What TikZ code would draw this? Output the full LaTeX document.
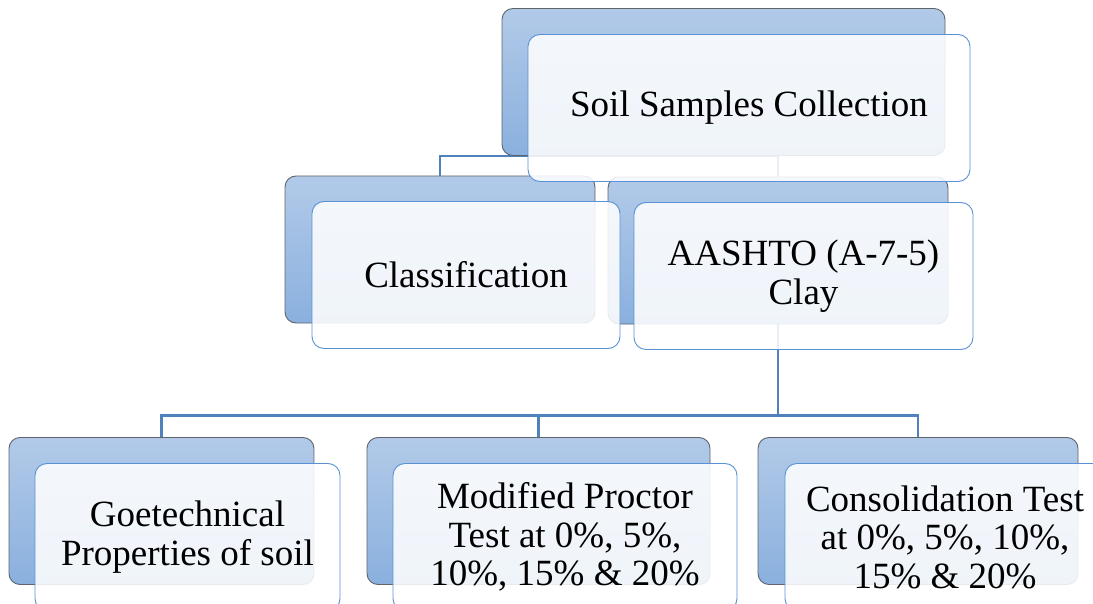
\documentclass[tikz,border=0pt]{standalone}
\usepackage{fontspec}
\setmainfont{Liberation Serif}
\usetikzlibrary{calc,backgrounds}
\definecolor{lnk}{RGB}{79,129,189}
\definecolor{bktop}{RGB}{178,202,232}
\definecolor{bkbot}{RGB}{138,176,222}
\definecolor{bkedge}{RGB}{95,100,108}
\definecolor{fredge}{RGB}{88,146,212}
\tikzset{
  back/.style={rectangle,rounded corners=11pt,draw=bkedge,line width=0.9pt,
    top color=bktop,bottom color=bkbot,minimum height=147pt,inner sep=0pt},
  card/.style={rectangle,rounded corners=12pt,draw=fredge,line width=0.9pt,
    fill=white,fill opacity=0.87,text opacity=1,minimum height=147pt,inner sep=0pt,
    align=center,font=\fontsize{37}{38.5}\selectfont},
  link/.style={draw=lnk,line width=2.4pt},
}

\begin{document}
\begin{tikzpicture}[x=1pt,y=-1pt]
\useasboundingbox (0,0) rectangle (1093,604);
\clip (0,0) rectangle (1093,604);
% back plates
\node[back,minimum width=443pt] (rootB) at (723.5,82) {};
\node[back,minimum width=310pt] (clsB) at (440,249.5) {};
\node[back,minimum width=340pt] (aasB) at (778,250.5) {};
\node[back,minimum width=305pt] (geoB) at (161.5,511) {};
\node[back,minimum width=343pt] (procB) at (538.5,511) {};
\node[back,minimum width=320pt] (consB) at (918,511) {};
% front cards, shifted down-right of their plates
\node[card,minimum width=442pt] (root) at ($(rootB)+(25.5,26)$) {Soil Samples Collection};
\node[card,minimum width=308pt] (cls) at ($(clsB)+(26,25.5)$) {Classification};
\node[card,minimum width=339pt] (aas) at ($(aasB)+(25.5,25.5)$) {AASHTO (A-7-5)\\Clay};
\node[card,minimum width=305pt] (geo) at ($(geoB)+(26,26)$) {Goetechnical\\Properties of soil};
\node[card,minimum width=344pt] (proc) at ($(procB)+(26.5,26)$)
  {Modified Proctor\\Test at 0\%, 5\%,\\10\%, 15\% \& 20\%};
\node[card,minimum width=320pt] (cons) at ($(consB)+(27,26)$)
  {Consolidation Test\\at 0\%, 5\%, 10\%,\\15\% \& 20\%};
% tree lines behind everything
\coordinate (bus) at ($(aasB.south)+(0,91)$);
\begin{scope}[on background layer]
  \draw[link] (clsB.north) -- (clsB.north |- rootB.south)
    -- (aasB.north |- rootB.south) -- (aasB.north);
  \draw[link] (aasB.south) -- (bus);
  \draw[link] (geoB.north) -- (geoB.north |- bus) -- (consB.north |- bus) -- (consB.north);
  \draw[link] (procB.north |- bus) -- (procB.north);
\end{scope}
\end{tikzpicture}
\end{document}
